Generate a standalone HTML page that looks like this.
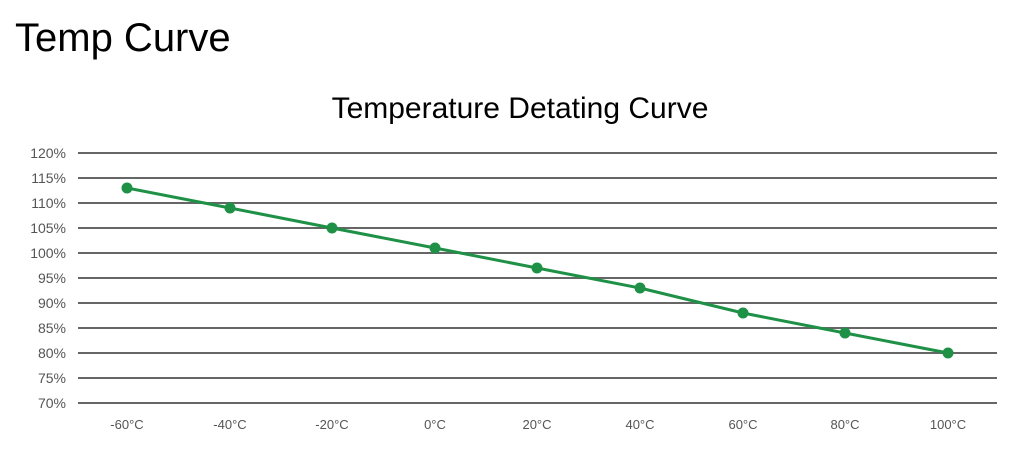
<!DOCTYPE html>
<html><head><meta charset="utf-8"><style>
body{margin:0;background:#fff;width:1018px;height:462px;overflow:hidden;font-family:"Liberation Sans",Arial,sans-serif}
</style></head><body>
<svg width="1018" height="462" xmlns="http://www.w3.org/2000/svg" font-family="Liberation Sans, Arial, sans-serif">
<text x="15" y="51" font-size="40" fill="#000">Temp Curve</text>
<text x="520" y="118" font-size="30" fill="#000" text-anchor="middle">Temperature Detating Curve</text>
<g stroke="#666" stroke-width="2">
<line x1="78" x2="997" y1="153" y2="153"/><line x1="78" x2="997" y1="178" y2="178"/>
<line x1="78" x2="997" y1="203" y2="203"/><line x1="78" x2="997" y1="228" y2="228"/>
<line x1="78" x2="997" y1="253" y2="253"/><line x1="78" x2="997" y1="278" y2="278"/>
<line x1="78" x2="997" y1="303" y2="303"/><line x1="78" x2="997" y1="328" y2="328"/>
<line x1="78" x2="997" y1="353" y2="353"/><line x1="78" x2="997" y1="378" y2="378"/>
<line x1="78" x2="997" y1="403" y2="403"/>
</g>
<g font-size="14" fill="#555" text-anchor="end">
<text x="66" y="158">120%</text><text x="66" y="183">115%</text><text x="66" y="208">110%</text>
<text x="66" y="233">105%</text><text x="66" y="258">100%</text><text x="66" y="283">95%</text>
<text x="66" y="308">90%</text><text x="66" y="333">85%</text><text x="66" y="358">80%</text>
<text x="66" y="383">75%</text><text x="66" y="408">70%</text>
</g>
<g font-size="13" fill="#555" text-anchor="middle">
<text x="127" y="429">-60°C</text><text x="230" y="429">-40°C</text><text x="332" y="429">-20°C</text>
<text x="435" y="429">0°C</text><text x="537" y="429">20°C</text><text x="640" y="429">40°C</text>
<text x="743" y="429">60°C</text><text x="845" y="429">80°C</text><text x="948" y="429">100°C</text>
</g>
<polyline fill="none" stroke="#1e9146" stroke-width="3" points="127,188 230,208 332,228 435,248 537,268 640,288 743,313 845,333 948,353"/>
<g fill="#1e9146">
<circle cx="127" cy="188" r="5.5"/><circle cx="230" cy="208" r="5.5"/><circle cx="332" cy="228" r="5.5"/>
<circle cx="435" cy="248" r="5.5"/><circle cx="537" cy="268" r="5.5"/><circle cx="640" cy="288" r="5.5"/>
<circle cx="743" cy="313" r="5.5"/><circle cx="845" cy="333" r="5.5"/><circle cx="948" cy="353" r="5.5"/>
</g>
</svg>
</body></html>
